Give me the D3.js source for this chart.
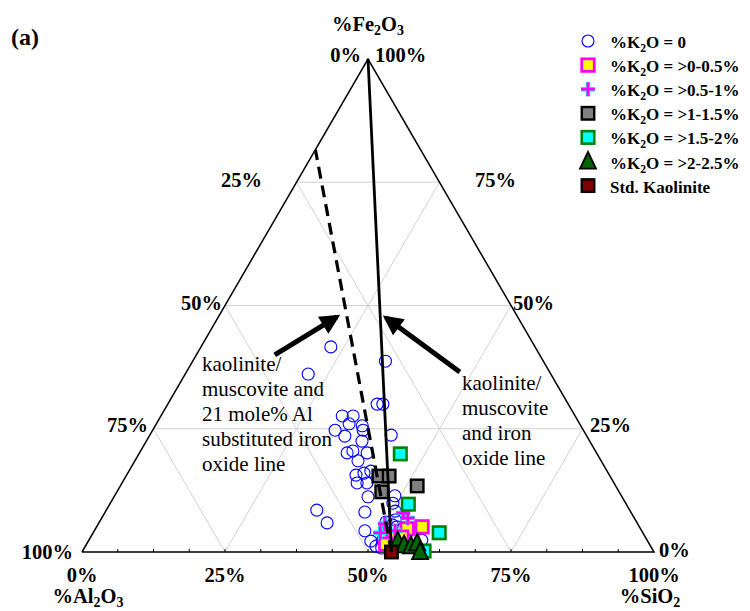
<!DOCTYPE html>
<html>
<head>
<meta charset="utf-8">
<script src="https://cdnjs.cloudflare.com/ajax/libs/d3/7.8.5/d3.min.js"></script>
<style>
  body { margin: 0; background: #fff; }
  text { font-family: "Liberation Serif", "Times New Roman", serif; }
  .bold { font-weight: bold; }
</style>
</head>
<body>
<div id="main"></div>
<script>
// data: [Al2O3, SiO2, Fe2O3] in %
const k2o_0 = [
  [35.7,22.7,41.6],[27.6,33.7,38.7],[42.4,21.5,36.1],[33.4,36.6,30.0],[32.4,37.6,30.0],
  [40.7,31.7,27.6],[38.8,33.6,27.6],[40.3,33.7,26.0],[38.2,36.2,25.6],[43.4,31.9,24.7],
  [38.5,36.8,24.7],[42.3,34.2,23.5],[34.1,42.2,23.7],[39.8,37.7,22.5],[43.6,36.3,20.1],
  [42.4,37.1,20.5],[42.5,39.0,18.5],[40.1,39.8,20.1],[44.3,40.1,15.6],[42.7,41.3,16.0],
  [41.3,42.3,16.4],[44.9,41.1,14.0],[43.2,42.8,14.0],[39.6,49.0,11.4],[44.4,44.4,11.2],
  [54.7,36.8,8.5],[54.2,39.9,5.9],[46.5,45.4,8.1],[40.7,49.4,9.9],[41.1,50.6,8.3],
  [42.0,51.5,6.5],[48.4,47.3,4.3],[48.4,49.4,2.2],[46.2,51.4,2.4],[47.2,52.0,0.8],
  [39.4,58.2,2.4],[42.4,52.5,5.1],[43.0,51.5,5.5],[43.8,50.1,6.1],[48.0,50.8,1.2],
  [45.3,50.9,3.9]
];
const k2o_0_05 = [[40.8,54.5,4.7],[38.0,56.9,5.1],[44.1,53.1,2.8],[46.1,52.3,1.6],[42.6,54.4,3.0]];
const k2o_05_1 = [[39.9,52.2,7.9],[39.6,53.5,6.9],[44.2,50.1,5.7],[43.1,52.6,4.3],[45.9,50.2,3.9],[43.8,54.6,1.6]];
const k2o_1_15 = [[40.4,44.2,15.4],[38.6,46.0,15.4],[34.7,51.9,13.4],[41.5,46.3,12.2]];
const k2o_15_2 = [[34.4,45.7,19.9],[38.1,52.2,9.7],[35.6,60.5,3.9],[40.1,59.7,0.2]];
const k2o_2_25 = [[43.7,54.1,2.2],[43.0,55.6,1.4],[41.9,56.9,1.2],[40.5,57.7,1.8],[40.9,59.1,0.0]];
const std_kaolinite = [[45.9,54.1,0.0]];

// reference lines
const kaolinite_iron_line = [[45.9,54.1,0],[0,0,100]];
const al_subst_line = [[45.9,54.1,0],[18.4,0,81.6]];
// annotation arrows [tail, tip]
const arrows = [[[46.3,13.7,40.0],[31.6,20.7,47.7]], [[15.7,47.8,36.5],[23.1,29.4,47.5]]];

const grid_levels = [25, 50, 75];
const base_ticks = d3.range(6.25, 100, 6.25);
const bottom_labels = ["0%", "25%", "50%", "75%", "100%"];
const legend_labels = [
  ["%K", "2", "O = 0"], ["%K", "2", "O = >0-0.5%"], ["%K", "2", "O = >0.5-1%"],
  ["%K", "2", "O = >1-1.5%"], ["%K", "2", "O = >1.5-2%"], ["%K", "2", "O = >2-2.5%"],
  ["Std. Kaolinite", "", ""]
];

const svg_width = 750, svg_height = 611;
const svg = d3.select("#main").append("svg")
  .attr("width", svg_width).attr("height", svg_height);

// ternary scales
const xScale = d3.scaleLinear().domain([0, 100]).range([82, 654]);
const yScale = d3.scaleLinear().domain([0, 100]).range([552, 59]);
function proj(d) {
  const t = d[0] + d[1] + d[2];
  const si = d[1] / t * 100, fe = d[2] / t * 100;
  return [xScale(si + fe / 2), yScale(fe)];
}
const line = d3.line().x(d => proj(d)[0]).y(d => proj(d)[1]);

// grid
const grid = svg.append("g").attr("stroke", "#c6c6c6").attr("stroke-width", 0.8).attr("fill", "none");
grid_levels.forEach(function(v) {
  grid.append("path").attr("d", line([[100 - v, 0, v], [0, 100 - v, v]]));
  grid.append("path").attr("d", line([[100 - v, v, 0], [0, v, 100 - v]]));
  grid.append("path").attr("d", line([[v, 100 - v, 0], [v, 0, 100 - v]]));
});

// triangle
svg.append("path")
  .attr("d", line([[100,0,0],[0,100,0],[0,0,100],[100,0,0]]))
  .attr("fill", "none").attr("stroke", "#000").attr("stroke-width", 1.5);

// base ticks
svg.append("g").selectAll("line").data(base_ticks).enter().append("line")
  .attr("x1", d => xScale(d)).attr("x2", d => xScale(d))
  .attr("y1", yScale(0)).attr("y2", yScale(0) - 3)
  .attr("stroke", "#000").attr("stroke-width", 1);

// markers
const marks = svg.append("g");
function sq(g, data, size, fill, stroke, sw) {
  g.selectAll(null).data(data).enter().append("rect")
    .attr("x", d => proj(d)[0] - size / 2).attr("y", d => proj(d)[1] - size / 2)
    .attr("width", size).attr("height", size)
    .attr("fill", fill).attr("stroke", stroke).attr("stroke-width", sw);
}
function circ(g, data) {
  g.selectAll(null).data(data).enter().append("circle")
    .attr("cx", d => proj(d)[0]).attr("cy", d => proj(d)[1]).attr("r", 6)
    .attr("fill", "none").attr("stroke", "#0000ff").attr("stroke-width", 1.1);
}
function plus(g, data) {
  ["#00e5ee", "#ff00ff"].forEach(function(c, i) {
    g.selectAll(null).data(data).enter().append("path")
      .attr("transform", d => `translate(${proj(d)[0]},${proj(d)[1]})`)
      .attr("d", "M-7,0H7M0,-7V7")
      .attr("stroke", c).attr("stroke-width", i ? 2.6 : 4.6).attr("fill", "none");
  });
}
function tri(g, data, s) {
  g.selectAll(null).data(data).enter().append("path")
    .attr("transform", d => `translate(${proj(d)[0]},${proj(d)[1]})`)
    .attr("d", `M0,${-s * 0.6}L${s / 2},${s * 0.45}L${-s / 2},${s * 0.45}Z`)
    .attr("fill", "#006400").attr("stroke", "#000").attr("stroke-width", 1.8);
}
circ(marks, k2o_0);
sq(marks, k2o_0_05, 12.5, "#ffff00", "#ff00ff", 2.8);
plus(marks, k2o_05_1);
sq(marks, k2o_1_15, 12.5, "#808080", "#000", 2.4);
sq(marks, k2o_15_2, 12.5, "#00ffff", "#008000", 2.6);
tri(marks, k2o_2_25, 16);
sq(marks, std_kaolinite, 12.5, "#800000", "#000", 2.4);

// reference lines
svg.append("path").attr("d", line(kaolinite_iron_line))
  .attr("stroke", "#000").attr("stroke-width", 2.8).attr("fill", "none");
svg.append("path").attr("d", line(al_subst_line))
  .attr("stroke", "#000").attr("stroke-width", 3.2).attr("stroke-dasharray", "12,7").attr("fill", "none");

// arrows
svg.append("defs").append("marker")
  .attr("id", "head").attr("viewBox", "0 0 10 10").attr("refX", 8).attr("refY", 5)
  .attr("markerWidth", 4.4).attr("markerHeight", 4).attr("orient", "auto")
  .append("path").attr("d", "M0,0L10,5L0,10Z").attr("fill", "#000");
arrows.forEach(function(a) {
  svg.append("path").attr("d", line(a))
    .attr("stroke", "#000").attr("stroke-width", 5).attr("fill", "none")
    .attr("marker-end", "url(#head)");
});

// annotation texts
function block(x, y0, lines) {
  const t = svg.append("text").attr("font-size", 21);
  lines.forEach(function(s, i) {
    t.append("tspan").attr("x", x).attr("y", y0 + i * 25).text(s);
  });
}
block(202, 371, ["kaolinite/", "muscovite and", "21 mole% Al", "substituted iron", "oxide line"]);
block(462, 390, ["kaolinite/", "muscovite", "and iron", "oxide line"]);

// axis labels
const lab = svg.append("g").attr("class", "bold").attr("font-size", 20.5);
function txt(x, y, s, anchor) {
  return lab.append("text").attr("x", x).attr("y", y).attr("text-anchor", anchor || "middle").text(s);
}
bottom_labels.forEach(function(s, i) { txt(xScale(i * 25), 582, s); });
txt(73, 559, "100%", "end");
txt(148, 432, "75%", "end");
txt(222, 310, "50%", "end");
txt(262, 187, "25%", "end");
txt(659, 557, "0%", "start");
txt(590, 432, "25%", "start");
txt(513, 310, "50%", "start");
txt(475, 187, "75%", "start");
txt(361, 62, "0%", "end");
txt(375, 62, "100%", "start");
txt(11, 45, "(a)", "start").attr("font-size", 24);

function formula(x, y, parts, anchor) {
  const t = lab.append("text").attr("x", x).attr("y", y).attr("text-anchor", anchor);
  parts.forEach(function(p, i) {
    const ts = t.append("tspan").text(p);
    if (i % 2 == 1) ts.attr("font-size", "0.68em").attr("dy", 4);
    else if (i > 0) ts.attr("dy", -4);
  });
  return t;
}
formula(368, 31, ["%Fe", "2", "O", "3"], "middle");
formula(88, 603, ["%Al", "2", "O", "3"], "middle");
formula(650, 603, ["%SiO", "2"], "middle");

// legend
const legend = svg.append("g").attr("transform", "translate(588,41)");
const legend_kinds = ["circle", "yellow", "plus", "gray", "cyan", "tri", "kao"];
legend_labels.forEach(function(l, i) {
  const g = legend.append("g").attr("transform", `translate(0,${i * 24.1})`);
  const k = legend_kinds[i];
  const one = [[1, 0, 0]];
  const gp = g.append("g").attr("transform", `translate(${-proj(one[0])[0]},${-proj(one[0])[1]})`);
  if (k == "circle") circ(gp, one);
  if (k == "yellow") sq(gp, one, 12.5, "#ffff00", "#ff00ff", 2.8);
  if (k == "plus") plus(gp, one);
  if (k == "gray") sq(gp, one, 12.5, "#808080", "#000", 2.4);
  if (k == "cyan") sq(gp, one, 12.5, "#00ffff", "#008000", 2.6);
  if (k == "tri") tri(gp, one, 16);
  if (k == "kao") sq(gp, one, 12.5, "#800000", "#000", 2.4);
  const t = g.append("text").attr("class", "bold").attr("font-size", 17).attr("x", 22).attr("y", 7);
  t.append("tspan").text(l[0]);
  if (l[1]) {
    t.append("tspan").text(l[1]).attr("font-size", "0.68em").attr("dy", 4);
    t.append("tspan").text(l[2]).attr("dy", -4);
  }
});
</script>
</body>
</html>
